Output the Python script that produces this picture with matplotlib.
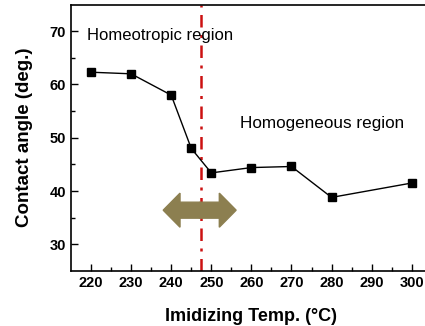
import matplotlib
matplotlib.use("Agg")
import matplotlib.pyplot as plt

plt.rcParams['font.family'] = ['Liberation Sans', 'DejaVu Sans']

# Dados
temperatura = [220, 230, 240, 245, 250, 260, 270, 280, 300]
angulo = [62.3, 62.0, 58.0, 48.0, 43.4, 44.4, 44.6, 38.8, 41.5]
x_transicao = 247.4
seta_inicio = 238.0
seta_fim = 256.2
seta_y = 36.4

fig = plt.figure(figsize=(4.25, 3.26), dpi=100)
ax = fig.add_axes([0.167, 0.169, 0.849, 0.817])

# Curva principal
ax.plot(temperatura, angulo, color='black', linewidth=1, marker='s',
        markersize=6, markerfacecolor='black', zorder=3)

# Linha de transicao
ax.axvline(x_transicao, color='#CC1111', linestyle=(0, (5, 3, 1.2, 3)),
           linewidth=1.8, zorder=2)

# Seta dupla (por cima da linha vermelha)
meio = (seta_inicio + seta_fim) / 2
for fim in (seta_inicio, seta_fim):
    ax.arrow(meio, seta_y, fim - meio, 0, width=3.0, head_width=6.4,
             head_length=4.2, length_includes_head=True,
             facecolor='#8C7F50', edgecolor='#8C7F50', zorder=6)

# Textos das regioes
ax.text(219, 69.1, 'Homeotropic region', fontsize=12, va='center', ha='left')
ax.text(257.2, 52.6, 'Homogeneous region', fontsize=12.3, va='center', ha='left')

ax.set_xlim(215, 305)
ax.set_ylim(25, 75)
ax.set_xticks([220, 230, 240, 250, 260, 270, 280, 290, 300])
ax.set_yticks([30, 40, 50, 60, 70])
ax.set_xticks(range(225, 305, 10), minor=True)
ax.set_yticks(range(35, 75, 10), minor=True)
ax.tick_params(which='both', direction='in', top=False, right=False)
ax.tick_params(which='major', length=5, width=1, labelsize=10.5)
ax.tick_params(which='minor', length=3, width=1)
for lab in ax.get_xticklabels() + ax.get_yticklabels():
    lab.set_fontweight('bold')
for s in ax.spines.values():
    s.set_linewidth(1.2)

ax.set_xlabel('Imidizing Temp. (°C)', fontsize=13, fontweight='bold', labelpad=13)
ax.set_ylabel('Contact angle (deg.)', fontsize=13.5, fontweight='bold', labelpad=12)

plt.savefig('out.png', dpi=100)
